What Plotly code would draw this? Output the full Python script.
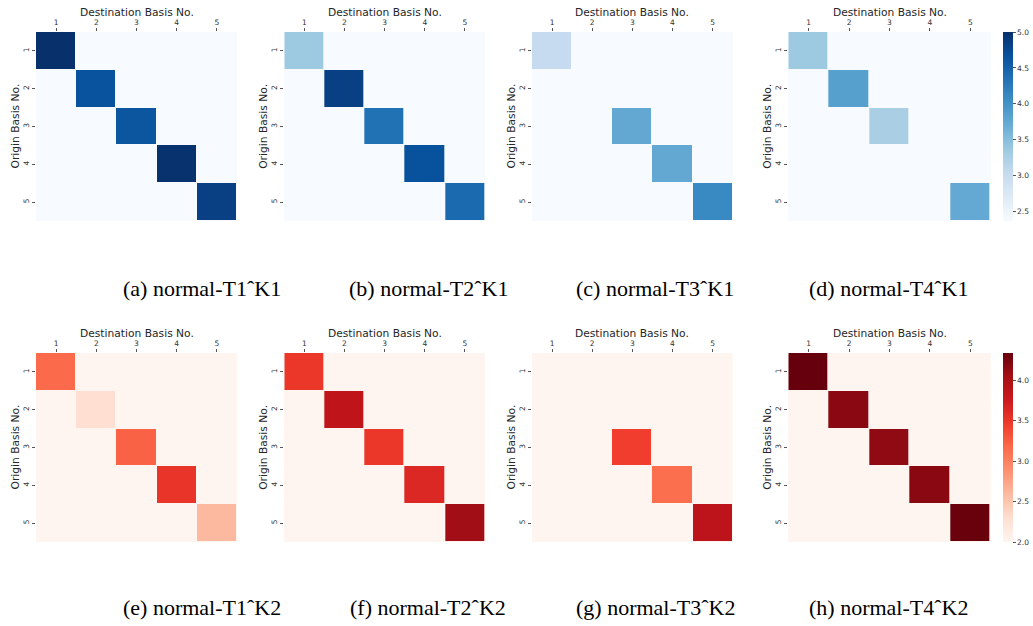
import numpy as np
import plotly.graph_objects as go
import plotly.express as px

# ---------------- data ----------------
basis = [1, 2, 3, 4, 5]
tick_labels = ["1", "2", "3", "4", "5"]
OFF_DIAG = 0.0  # off-diagonal cells (shown at lowest colour)

# diagonal values (K1: Blues, K2: Reds)
diag_T1_K1 = [5.00, 4.66, 4.62, 4.98, 4.84]
diag_T2_K1 = [3.36, 4.84, 4.34, 4.67, 4.42]
diag_T3_K1 = [3.03, 0.00, 3.76, 3.75, 4.10]
diag_T4_K1 = [3.36, 3.85, 3.26, 0.00, 3.74]

diag_T1_K2 = [3.17, 2.30, 3.22, 3.52, 2.60]
diag_T2_K2 = [3.50, 3.85, 3.50, 3.62, 4.06]
diag_T3_K2 = [0.00, 0.00, 3.45, 3.13, 3.87]
diag_T4_K2 = [4.34, 4.18, 4.15, 4.18, 4.33]

captions_K1 = ["(a) normal-T1ˆK1", "(b) normal-T2ˆK1", "(c) normal-T3ˆK1", "(d) normal-T4ˆK1"]
captions_K2 = ["(e) normal-T1ˆK2", "(f) normal-T2ˆK2", "(g) normal-T3ˆK2", "(h) normal-T4ˆK2"]
x_title = "Destination Basis No."
y_title = "Origin Basis No."

blue_range = [2.37, 5.0]
red_range = [2.0, 4.34]
blue_ticks = [2.5, 3.0, 3.5, 4.0, 4.5, 5.0]
red_ticks = [2.0, 2.5, 3.0, 3.5, 4.0]


def matrix(diag):
    m = np.full((5, 5), OFF_DIAG)
    np.fill_diagonal(m, diag)
    return m


W, H = 1033, 626
col_px = [(36, 237), (284.3, 485), (532, 732.7), (788.3, 990.7)]
row_px = [(32, 221), (353, 542)]
cap_x = [202, 428, 655, 888]
cap_y = [288, 607]

BLUES = px.colors.sequential.Blues
REDS = px.colors.sequential.Reds

fig = go.Figure()
rows = [
    ([diag_T1_K1, diag_T2_K1, diag_T3_K1, diag_T4_K1], "coloraxis", BLUES[0], captions_K1),
    ([diag_T1_K2, diag_T2_K2, diag_T3_K2, diag_T4_K2], "coloraxis2", REDS[0], captions_K2),
]

title_font = dict(family="DejaVu Sans", size=10.7, color="#262626")
tick_font = dict(family="DejaVu Sans", size=7.5, color="#333333")

k = 0
for r, (diags, cax, bg, caps) in enumerate(rows):
    y0, y1 = row_px[r]
    for c, d in enumerate(diags):
        k += 1
        x0, x1 = col_px[c]
        xa = "x" if k == 1 else f"x{k}"
        ya = "y" if k == 1 else f"y{k}"
        fig.add_trace(go.Heatmap(
            z=matrix(d), x=basis, y=basis, coloraxis=cax,
            xgap=1, ygap=1, xaxis=xa, yaxis=ya,
            hovertemplate="Origin %{y} → Dest %{x}: %{z:.2f}<extra></extra>",
        ))
        xkey = "xaxis" if k == 1 else f"xaxis{k}"
        ykey = "yaxis" if k == 1 else f"yaxis{k}"
        fig.update_layout({
            xkey: dict(
                domain=[x0 / W, x1 / W], anchor=ya, side="top",
                range=[0.5, 5.5], tickvals=basis, ticktext=tick_labels,
                ticks="outside", ticklen=3, tickwidth=1, tickcolor="#555555",
                tickfont=tick_font, showgrid=False, zeroline=False, showline=False,
            ),
            ykey: dict(
                domain=[1 - y1 / H, 1 - y0 / H], anchor=xa,
                range=[5.5, 0.5], tickvals=basis, ticktext=tick_labels,
                ticks="outside", ticklen=3.5, tickwidth=1, tickcolor="#555555",
                tickangle=-90, tickfont=tick_font,
                showgrid=False, zeroline=False, showline=False,
            ),
        })
        fig.add_shape(type="rect", xref=f"{xa} domain", yref=f"{ya} domain",
                      x0=0, x1=1, y0=0, y1=1, fillcolor=bg, line_width=0,
                      layer="below")
        # axis titles
        fig.add_annotation(
            text=x_title, xref="paper", yref="paper",
            x=(x0 + x1) / 2 / W, y=1 - (y0 - 20) / H, borderpad=0,
            xanchor="center", yanchor="middle", showarrow=False, font=title_font,
        )
        fig.add_annotation(
            text=y_title, xref="paper", yref="paper", borderpad=0,
            x=(x0 - 21) / W, y=1 - (y0 + y1) / 2 / H, textangle=-90,
            xanchor="center", yanchor="middle", showarrow=False, font=title_font,
        )
        fig.add_annotation(
            text=caps[c], xref="paper", yref="paper",
            x=cap_x[c] / W, y=1 - cap_y[r] / H, xanchor="center", yanchor="middle",
            showarrow=False,
            font=dict(family="Liberation Serif", size=22, color="#000000"),
        )

cb_common = dict(
    thickness=10, lenmode="pixels", len=189, xanchor="left", x=1002.7 / W,
    xpad=0, ypad=0, yanchor="middle", outlinewidth=0, ticks="outside",
    ticklen=3, tickcolor="#555555", tickfont=tick_font,
)

fig.update_layout(
    width=W, height=H,
    margin=dict(l=0, r=0, t=0, b=0),
    paper_bgcolor="white", plot_bgcolor="white",
    coloraxis=dict(colorscale=BLUES, cmin=blue_range[0], cmax=blue_range[1],
                   colorbar=dict(**cb_common, y=1 - 126.5 / H, tickvals=blue_ticks,
                                 ticktext=[f"{v:.1f}" for v in blue_ticks])),
    coloraxis2=dict(colorscale=REDS, cmin=red_range[0], cmax=red_range[1],
                    colorbar=dict(**cb_common, y=1 - 447.5 / H, tickvals=red_ticks,
                                  ticktext=[f"{v:.1f}" for v in red_ticks])),
)

fig.write_html("out.html")
